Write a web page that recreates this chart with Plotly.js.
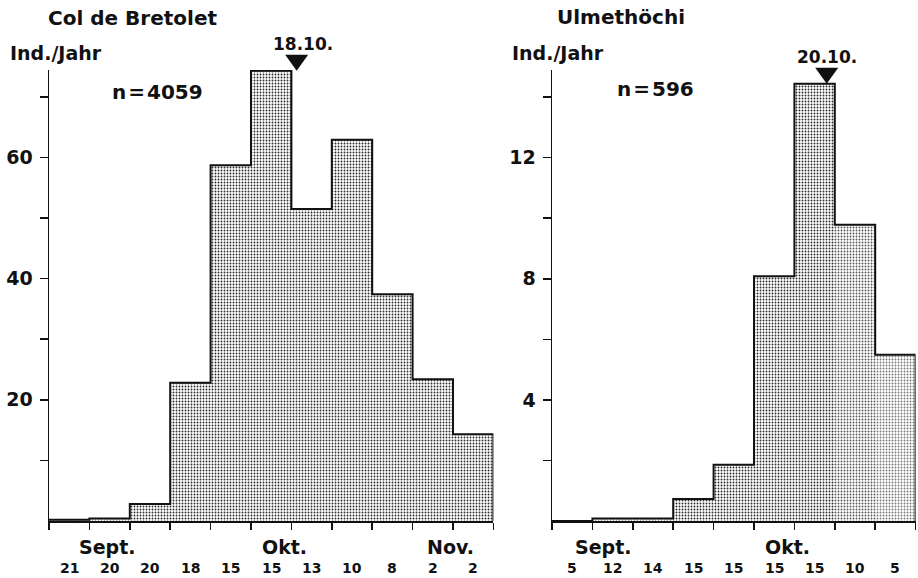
<!DOCTYPE html>
<html>
<head>
<meta charset="utf-8">
<script src="https://cdn.plot.ly/plotly-3.0.1.min.js"></script>
<style>
  html, body { margin: 0; padding: 0; background: #fff; }
  #chart { width: 918px; height: 578px; }
  #chart .ytick text { font-weight: 700 !important; }
</style>
</head>
<body>
<div id="chart"></div>
<script>
// Mean individuals per year in successive 5-day periods (autumn passage)
const bretoletValues = [0.2, 0.4, 2.8, 22.8, 58.7, 74.3, 51.5, 62.9, 37.4, 23.4, 14.3];
const bretoletYears  = ['21', '20', '20', '18', '15', '15', '13', '10', '8', '2', '2'];
const ulmValues      = [0, 0.08, 0.08, 0.73, 1.86, 8.08, 14.44, 9.78, 5.49];
const ulmYears       = ['5', '12', '14', '15', '15', '15', '15', '10', '5'];

// Month names and month boundaries, in 5-day-period units from the first period
const bretoletMonths     = ['Sept.', 'Okt.', 'Nov.'];
const bretoletMonthPos   = [1.44, 5.84, 9.93];
const bretoletMonthBreak = [2.62, 8.79];
const ulmMonths          = ['Sept.', 'Okt.'];
const ulmMonthPos        = [1.26, 5.82];
const ulmMonthBreak      = [2.65, 8.79];

// Median passage date markers
const peakLabels = ['18.10.', '20.10.'];
const peakPos    = [6.13, 6.8];

const siteNames   = ['Col de Bretolet', 'Ulmethöchi'];
const sampleSizes = ['n\u200A=\u200A4059', 'n\u200A=\u200A596'];
const yLabel      = 'Ind./Jahr';

const bretoletTicks = [10, 20, 30, 40, 50, 60, 70];
const ulmTicks      = [2, 4, 6, 8, 10, 12, 14];

// ---- page geometry (pixels) ----
const W = 918, H = 578;
const M = { l: 0, r: 0, t: 70, b: 57 };
const plotH = H - M.t - M.b;
const base = H - M.b;                 // pixel row of y = 0
const yMaxL = plotH / 6.06;
const yMaxR = plotH / 30.28;
const domL = [49 / W, 493.4 / W];
const domR = [552 / W, 915.6 / W];

const FONT = 'DejaVu Sans, Verdana, sans-serif';
const bold = (size) => ({ family: FONT, size: size, color: '#111', weight: 700 });
const px = (x) => x / W;
const py = (y) => (base - y) / plotH;

function centers(vals) { return vals.map((_, i) => i + 0.5); }
function edges(n) { return Array.from({ length: n + 1 }, (_, i) => i); }

// outline of the histogram as a step line
function outline(vals) {
  const xs = [], ys = [];
  vals.forEach((v, i) => { xs.push(i); ys.push(v); });
  xs.push(vals.length, vals.length); ys.push(vals[vals.length - 1], 0);
  return { xs, ys };
}

function panelTraces(vals, xa, ya, fg) {
  const o = outline(vals);
  return [
    {
      type: 'bar', x: centers(vals), y: vals, width: 1,
      xaxis: xa, yaxis: ya, hoverinfo: 'skip',
      marker: {
        color: '#ffffff',
        line: { width: 0 },
        pattern: { shape: '.', size: 3, solidity: 0.3, fgcolor: fg, bgcolor: '#ffffff' }
      }
    },
    {
      type: 'scatter', mode: 'lines', x: o.xs, y: o.ys,
      xaxis: xa, yaxis: ya, hoverinfo: 'skip',
      line: { color: '#111', width: 2, shape: 'hv' }
    }
  ];
}

const fgL = bretoletValues.map(() => '#2a2a2a');
const fgR = ulmValues.map((_, i) => i < 7 ? '#2a2a2a' : (i === 7 ? '#555' : '#777'));

const maxL = Math.max(...bretoletValues);
const maxR = Math.max(...ulmValues);

const traces = [
  ...panelTraces(bretoletValues, 'x', 'y', fgL),
  ...panelTraces(ulmValues, 'x2', 'y2', fgR)
];

function xAxis(n, domain, anchor) {
  return {
    domain: domain, range: [0, n], anchor: anchor,
    tickvals: edges(n), ticktext: edges(n).map(() => ''),
    ticks: 'outside', ticklen: 7, tickwidth: 1.5, tickcolor: '#111',
    showline: true, linewidth: 2, linecolor: '#111',
    showgrid: false, zeroline: false, fixedrange: true
  };
}
function breakAxis(over, anchor, n, vals) {
  return {
    overlaying: over, anchor: anchor, range: [0, n], tickvals: vals, ticktext: vals.map(() => ''),
    ticks: 'outside', ticklen: 20, tickwidth: 1.5, tickcolor: '#111',
    showline: false, showgrid: false, zeroline: false, showticklabels: false, fixedrange: true
  };
}
function yAxis(anchor, maxv, ticks) {
  return {
    anchor: anchor, domain: [0, 1], range: [0, maxv],
    tickvals: ticks, ticktext: ticks.map((t, i) => i % 2 === 1 ? String(t) : ''),
    ticks: 'outside', ticklen: 8, tickwidth: 1.5, tickcolor: '#111',
    tickfont: bold(19), ticklabelstandoff: 3,
    showline: true, linewidth: 1.5, linecolor: '#111',
    showgrid: false, zeroline: false, fixedrange: true
  };
}

const ann = [];
function text(t, x, y, size, anchor) {
  ann.push({
    text: t, x: x, y: y, xref: 'paper', yref: 'paper',
    xanchor: anchor || 'left', yanchor: 'middle', showarrow: false, font: bold(size)
  });
}

// headings
text(siteNames[0], px(46), py(18), 20, 'left');
text(siteNames[1], px(555), py(17), 20, 'left');
text(yLabel, px(8), py(53), 19, 'left');
text(yLabel, px(510), py(53), 19, 'left');
text(sampleSizes[0], px(110), py(92), 20, 'left');
text(sampleSizes[1], px(615), py(89), 20, 'left');

// median date labels above the markers
ann.push({ text: peakLabels[0], x: peakPos[0], y: maxL, xref: 'x', yref: 'y',
  xanchor: 'center', yanchor: 'bottom', yshift: 15, xshift: 6, showarrow: false,
  font: { family: FONT, size: 17, color: '#111', weight: 700 } });
ann.push({ text: peakLabels[1], x: peakPos[1], y: maxR, xref: 'x2', yref: 'y2',
  xanchor: 'center', yanchor: 'bottom', yshift: 15, showarrow: false,
  font: { family: FONT, size: 17, color: '#111', weight: 700 } });

// month names and number-of-years labels under each period
bretoletMonths.forEach((m, i) => ann.push({ text: m, x: bretoletMonthPos[i], xref: 'x',
  y: py(547), yref: 'paper', xanchor: 'center', yanchor: 'middle', showarrow: false, font: bold(19) }));
ulmMonths.forEach((m, i) => ann.push({ text: m, x: ulmMonthPos[i], xref: 'x2',
  y: py(547), yref: 'paper', xanchor: 'center', yanchor: 'middle', showarrow: false, font: bold(19) }));
bretoletYears.forEach((t, i) => ann.push({ text: t, x: i + 0.5, xref: 'x',
  y: py(568), yref: 'paper', xanchor: 'center', yanchor: 'middle', showarrow: false, font: bold(14) }));
ulmYears.forEach((t, i) => ann.push({ text: t, x: i + 0.5, xref: 'x2',
  y: py(568), yref: 'paper', xanchor: 'center', yanchor: 'middle', showarrow: false, font: bold(14) }));

// downward triangles marking the median dates, tip resting on the tallest bar
function triangle(pos, n, dom, peak, ymax) {
  return {
    type: 'path', xref: 'paper', yref: 'paper',
    xsizemode: 'pixel', ysizemode: 'pixel',
    xanchor: dom[0] + (pos / n) * (dom[1] - dom[0]),
    yanchor: peak / ymax,
    path: 'M-11.5,16 L11.5,16 L0,0 Z',
    fillcolor: '#111', line: { width: 0 }, layer: 'above'
  };
}

const layout = {
  width: W, height: H, margin: M,
  paper_bgcolor: '#fff', plot_bgcolor: 'rgba(0,0,0,0)',
  showlegend: false, bargap: 0,
  xaxis: xAxis(bretoletValues.length, domL, 'y'),
  xaxis2: xAxis(ulmValues.length, domR, 'y2'),
  xaxis3: breakAxis('x', 'y', bretoletValues.length, bretoletMonthBreak),
  xaxis4: breakAxis('x2', 'y2', ulmValues.length, ulmMonthBreak),
  yaxis: yAxis('x', yMaxL, bretoletTicks),
  yaxis2: yAxis('x2', yMaxR, ulmTicks),
  shapes: [
    triangle(peakPos[0], bretoletValues.length, domL, maxL, yMaxL),
    triangle(peakPos[1], ulmValues.length, domR, maxR, yMaxR)
  ],
  annotations: ann
};

Plotly.newPlot('chart', traces, layout, { staticPlot: true, displayModeBar: false });
</script>
</body>
</html>
